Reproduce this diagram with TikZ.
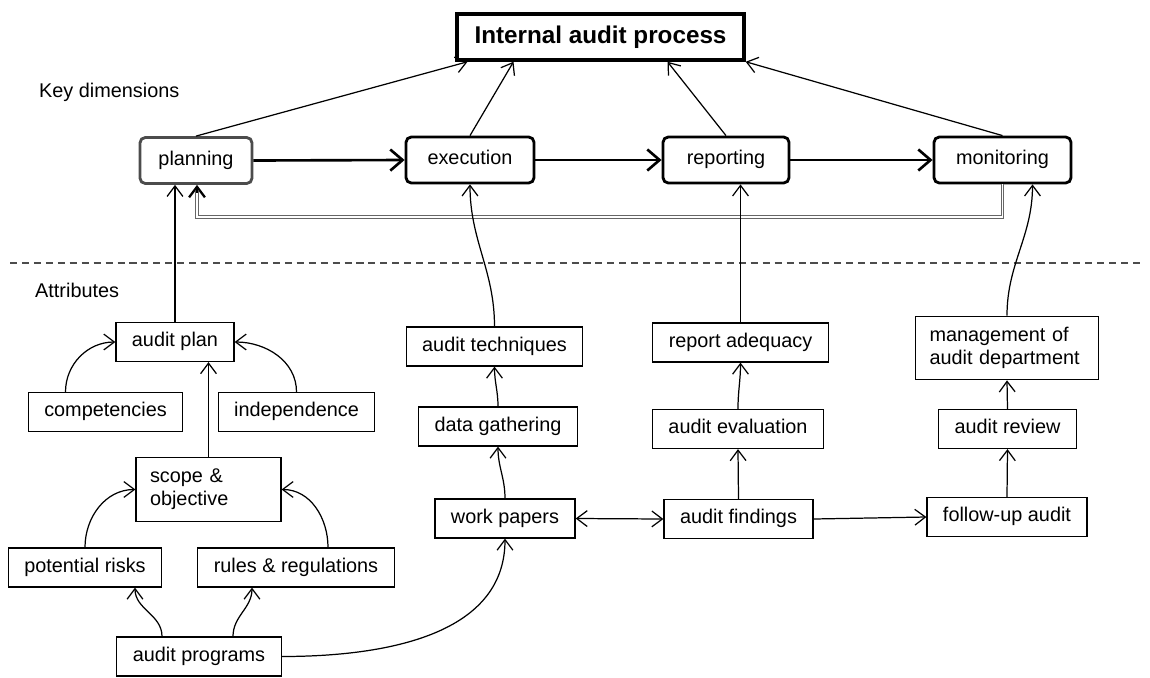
\documentclass[tikz,border=0pt]{standalone}
\usepackage{fontspec}
\setmainfont{Liberation Sans}
\usetikzlibrary{arrows.meta,calc}

\tikzset{
  >={Straight Barb[length=6pt,width=9pt]},
  box/.style={draw, line width=0.7pt, inner xsep=0.32cm, minimum height=0.78cm},
  attr/.style={box, text height=0.73em, text depth=0.21em},
  twoline/.style={box, text width=#1, align=left, inner xsep=0.28cm, minimum height=1.27cm},
  dim/.style={draw, rounded corners=3pt, line width=1.6pt, minimum height=0.92cm,
              text height=0.73em, text depth=0.21em},
  link/.style={->, line width=0.7pt},
  flow/.style={-{Straight Barb[length=7pt,width=12pt]}, line width=1.5pt},
  feedback/.style={double=white, double distance=0.9pt, draw=black!60, line width=0.5pt},
}

\begin{document}
\begin{tikzpicture}[x=0.02cm, y=-0.02cm, font=\fontsize{11.3}{13}\selectfont]
\useasboundingbox (0,0) rectangle (1150,677);

% top level
\node[draw, line width=2pt, minimum width=5.74cm, minimum height=0.92cm,
      font=\fontsize{13.8}{16}\selectfont\bfseries] (iap) at (600.5,37) {Internal audit process};
\node[anchor=west] (keydim) at (33,92) {Key dimensions};
\node[anchor=west] (attrib) at (29,290) {Attributes};

% key dimensions
\node[dim, draw=black!70, minimum width=2.24cm] (planning) at (196,160.5) {planning};
\node[dim, minimum width=2.56cm] (execution) at (470,160) {execution};
\node[dim, minimum width=2.52cm] (reporting) at (726,160) {reporting};
\node[dim, minimum width=2.74cm] (monitoring) at (1002.5,160) {monitoring};

\draw[link] (planning.north) -- ($(iap.south)+(-133,0)$);
\draw[link] (execution.north) -- ($(iap.south)+(-87,0)$);
\draw[link] (reporting.north) -- ($(iap.south)+(67,0)$);
\draw[link] (monitoring.north) -- (iap.south east);

\draw[flow] (planning.east) -- (execution.west);
\draw[flow] (execution.east) -- (reporting.west);
\draw[flow] (reporting.east) -- (monitoring.west);

% loop back from monitoring to planning
\coordinate (fb) at (197,217);
\draw[feedback] (monitoring.south) |- (fb) -- ($(fb |- planning.south)+(0,6)$);
\draw[-{Straight Barb[length=6pt,width=9pt]}, line width=1.3pt] ($(fb |- planning.south)+(0,8)$) -- (fb |- planning.south);

% separator
\coordinate (sepl) at (10,263);
\coordinate (sepr) at (1140,263);
\draw[black!70, line width=0.7pt, dash pattern=on 4pt off 2.8pt] (sepl) -- (sepr);

% attributes: planning
\node[attr] (auditplan) at (175,342) {audit plan};
\node[attr] (competencies) at (105.5,412) {competencies};
\node[attr] (independence) at (296.5,412) {independence};
\node[twoline=2.34cm] (scope) at (208.5,489.5) {scope \&\\objective};
\node[attr] (risks) at (85,567.5) {potential risks};
\node[attr] (rules) at (296,567.5) {rules \& regulations};
\node[attr] (programs) at (199,656.5) {audit programs};

\draw[link] (auditplan.north) -- (auditplan.north |- planning.south);
\draw[link] ($(competencies.north)+(-40,0)$) to[out=90,in=180] (auditplan.west);
\draw[link] (independence.north) to[out=90,in=0] (auditplan.east);
\draw[link] (scope.north) -- (scope.north |- auditplan.south);
\draw[link] (risks.north) to[out=90,in=180] (scope.west);
\draw[link] ($(rules.north)+(32,0)$) to[out=90,in=0] (scope.east);
\draw[link] ($(programs.north)+(-37,0)$) to[out=90,in=-90] ($(risks.south)+(50,0)$);
\draw[link] ($(programs.north)+(34,0)$) to[out=90,in=-90] ($(rules.south)+(-44,0)$);

% attributes: execution
\node[attr] (techniques) at (494.5,346.5) {audit techniques};
\node[attr] (gathering) at (498,426.5) {data gathering};
\node[attr] (papers) at (505,518.5) {work papers};

\draw[link] (programs.east) to[out=0,in=-90] (papers.south);
\draw[link] (papers.north) to[out=90,in=-90] (gathering.south);
\draw[link] (gathering.north) to[out=90,in=-90] (techniques.south);
\draw[link] (techniques.north) to[out=90,in=-90] (execution.south);

% attributes: reporting
\node[attr] (adequacy) at (740.5,342.5) {report adequacy};
\node[attr] (evaluation) at (738,429) {audit evaluation};
\node[attr] (findings) at (738.5,519) {audit findings};

\draw[link, <->] (papers.east) -- (findings.west);
\draw[link] (findings.north) -- (evaluation.south);
\draw[link] (evaluation.north) to[out=90,in=-90] (adequacy.south);
\draw[link] (adequacy.north) -- (adequacy.north |- reporting.south);

% attributes: monitoring
\node[twoline=3.1cm] (mgmt) at (1007,348) {management of\\audit department};
\node[attr] (review) at (1007.5,429) {audit review};
\node[attr] (followup) at (1007,517) {follow-up audit};

\draw[link] (findings.east) -- (followup.west);
\draw[link] (followup.north) -- (review.south);
\draw[link] (review.north) -- (mgmt.south);
\draw[link] (mgmt.north) to[out=90,in=-90] ($(monitoring.south)+(30,0)$);
\end{tikzpicture}
\end{document}
